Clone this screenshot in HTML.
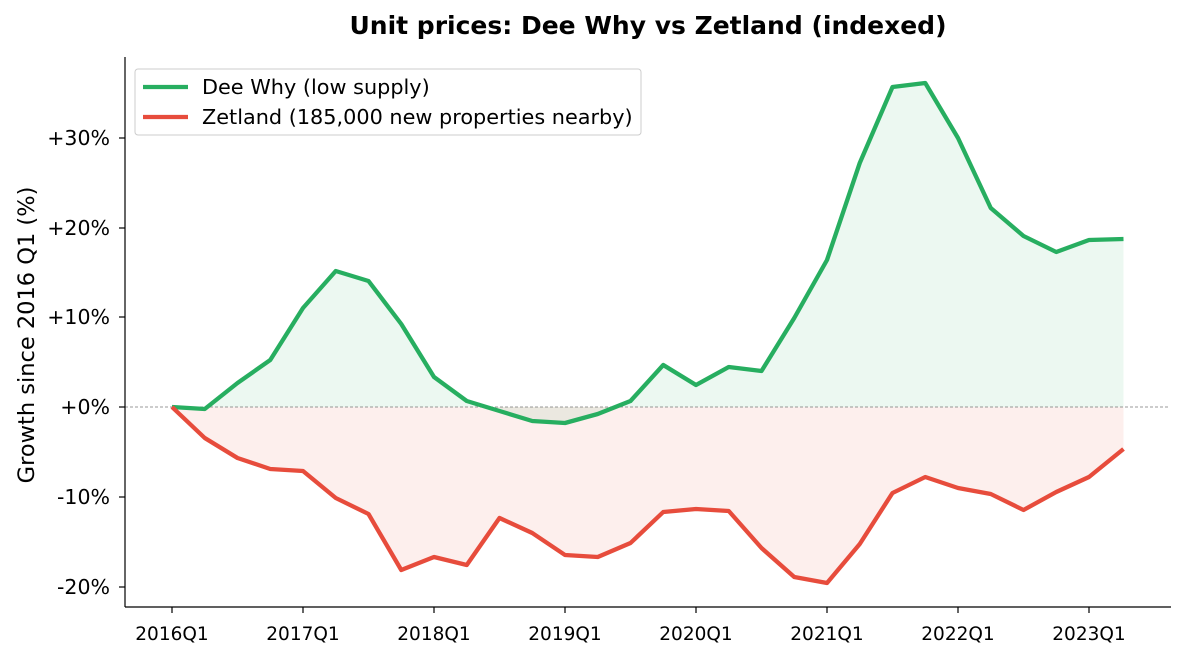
<!DOCTYPE html>
<html><head><meta charset="utf-8"><style>
body{margin:0;background:#fff;}
svg{display:block;font-family:"DejaVu Sans","Liberation Sans",sans-serif;}
</style></head><body>
<svg width="1185" height="657" viewBox="0 0 1185 657" xmlns="http://www.w3.org/2000/svg">
<rect width="1185" height="657" fill="#fff"/>
<text x="648" y="34" text-anchor="middle" font-size="25" font-weight="bold">Unit prices: Dee Why vs Zetland (indexed)</text>
<polygon fill="#27ae60" fill-opacity="0.09" points="172,407 172,407 204.75,409 237.5,383 270.25,360 303,308 335.75,271 368.5,281 401.25,324 434,377 466.75,401 499.5,411 532.25,421 565,423 597.75,414 630.5,401 663.25,365 696,385 728.75,367 761.5,371 794.25,318 827,260 859.75,163 892.5,87 925.25,83 958,138 990.75,208 1023.5,236 1056.25,252 1089,240 1123.5,239 1123.5,407"/>
<polygon fill="#e74c3c" fill-opacity="0.09" points="172,407 204.75,438 237.5,458 270.25,469 303,471 335.75,498 368.5,514 401.25,570 434,557 466.75,565 499.5,518 532.25,533 565,555 597.75,557 630.5,543 663.25,512 696,509 728.75,511 761.5,548 794.25,577 827,583 859.75,544 892.5,493 925.25,477 958,488 990.75,494 1023.5,510 1056.25,492 1089,477 1123.5,449 1123.5,407"/>
<line x1="125" y1="407" x2="1170" y2="407" stroke="#777" stroke-width="0.8" stroke-dasharray="3,2"/>
<polyline fill="none" stroke="#27ae60" stroke-width="4.3" stroke-linejoin="round" points="172,407 204.75,409 237.5,383 270.25,360 303,308 335.75,271 368.5,281 401.25,324 434,377 466.75,401 499.5,411 532.25,421 565,423 597.75,414 630.5,401 663.25,365 696,385 728.75,367 761.5,371 794.25,318 827,260 859.75,163 892.5,87 925.25,83 958,138 990.75,208 1023.5,236 1056.25,252 1089,240 1123.5,239"/>
<polyline fill="none" stroke="#e74c3c" stroke-width="4.3" stroke-linejoin="round" points="172,407 204.75,438 237.5,458 270.25,469 303,471 335.75,498 368.5,514 401.25,570 434,557 466.75,565 499.5,518 532.25,533 565,555 597.75,557 630.5,543 663.25,512 696,509 728.75,511 761.5,548 794.25,577 827,583 859.75,544 892.5,493 925.25,477 958,488 990.75,494 1023.5,510 1056.25,492 1089,477 1123.5,449"/>
<line x1="125" y1="57" x2="125" y2="607" stroke="#000" stroke-width="1.2"/>
<line x1="125" y1="607" x2="1171" y2="607" stroke="#000" stroke-width="1.2"/>
<g stroke="#000" stroke-width="1.2">
<line x1="119" y1="138" x2="125" y2="138"/><line x1="119" y1="228" x2="125" y2="228"/><line x1="119" y1="317" x2="125" y2="317"/><line x1="119" y1="407" x2="125" y2="407"/><line x1="119" y1="497" x2="125" y2="497"/><line x1="119" y1="587" x2="125" y2="587"/>
<line x1="172" y1="607" x2="172" y2="613"/><line x1="303" y1="607" x2="303" y2="613"/><line x1="434" y1="607" x2="434" y2="613"/><line x1="565" y1="607" x2="565" y2="613"/><line x1="696" y1="607" x2="696" y2="613"/><line x1="827" y1="607" x2="827" y2="613"/><line x1="958" y1="607" x2="958" y2="613"/><line x1="1089" y1="607" x2="1089" y2="613"/>
</g>
<g font-size="20.5" text-anchor="end">
<text x="110" y="145">+30%</text><text x="110" y="235">+20%</text><text x="110" y="324">+10%</text><text x="110" y="414">+0%</text><text x="110" y="504">-10%</text><text x="110" y="594">-20%</text>
</g>
<g font-size="18.5" text-anchor="middle">
<text x="172" y="640">2016Q1</text><text x="303" y="640">2017Q1</text><text x="434" y="640">2018Q1</text><text x="565" y="640">2019Q1</text><text x="696" y="640">2020Q1</text><text x="827" y="640">2021Q1</text><text x="958" y="640">2022Q1</text><text x="1089" y="640">2023Q1</text>
</g>
<text transform="translate(34,335) rotate(-90)" text-anchor="middle" font-size="22.5">Growth since 2016 Q1 (%)</text>
<rect x="135" y="69" width="506" height="66" rx="3" fill="#fff" fill-opacity="0.85" stroke="#ccc"/>
<line x1="143" y1="87" x2="188" y2="87" stroke="#27ae60" stroke-width="4.3"/>
<line x1="143" y1="117" x2="188" y2="117" stroke="#e74c3c" stroke-width="4.3"/>
<text x="202" y="94" font-size="20.8">Dee Why (low supply)</text>
<text x="202" y="124" font-size="20.8">Zetland (185,000 new properties nearby)</text>
</svg>
</body></html>
